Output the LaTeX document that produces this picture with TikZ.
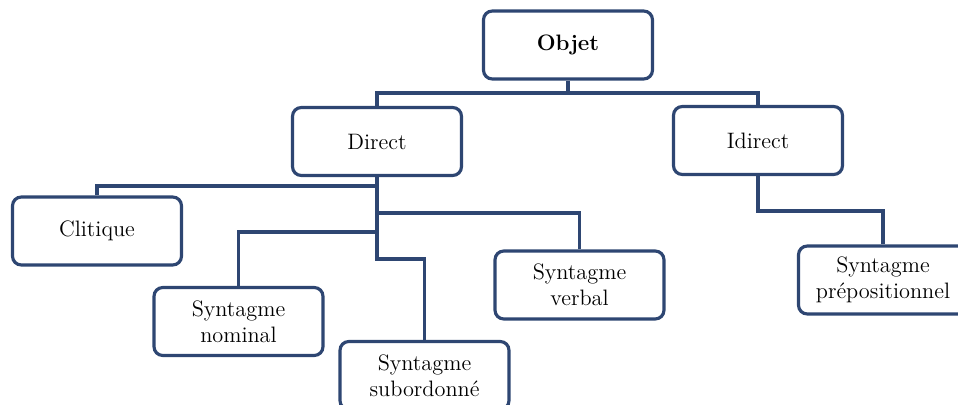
\documentclass[tikz,border=0pt]{standalone}
\usepackage{tikz}
\usetikzlibrary{positioning}
\usepackage{xcolor}
\definecolor{boxblue}{HTML}{2E4672}

\begin{document}
\begin{tikzpicture}[x=0.02cm, y=-0.02cm,
    box/.style={draw=boxblue, line width=1.8pt, rounded corners=5pt, fill=white,
        minimum width=3.38cm, minimum height=1.36cm, align=center,
        font=\fontsize{12.7}{14.8}\selectfont},
    link/.style={draw=boxblue, line width=1.8pt}]
    \useasboundingbox (0,0) rectangle (958,405);
    \clip (0,0) rectangle (958,405);
    % Boxes
    \node[box, font=\fontsize{12.7}{14.8}\selectfont\bfseries] (objet) at (568,45) {Objet};
    \node[box] (direct) at (377,141.5) {Direct};
    \node[box] (idirect) at (758,140.5) {Idirect};
    \node[box] (clitique) at (97,231) {Clitique};
    \node[box] (nominal) at (238.5,321.5) {Syntagme\\nominal};
    \node[box] (subord) at (424.5,375.5) {Syntagme\\subordonné};
    \node[box] (verbal) at (579.5,285) {Syntagme\\verbal};
    \node[box] (prep) at (883,280) {Syntagme\\prépositionnel};
    % Branch points
    \coordinate (objsplit) at (568,93);
    \coordinate (dirsplit) at (377,186);
    \coordinate (verbsplit) at (377,213);
    \coordinate (nomsplit) at (377,232);
    \coordinate (subsplit) at (377,259);
    \coordinate (indsplit) at (758,211);
    % Connections
    \draw[link] (objet.south) -- (objsplit);
    \draw[link] (direct.north) |- (objsplit) -| (idirect.north);
    \draw[link] (clitique.north) |- (dirsplit);
    \draw[link] (direct.south) -- (subsplit) -| (subord.north);
    \draw[link] (verbal.north) |- (verbsplit);
    \draw[link] (nominal.north) |- (nomsplit);
    \draw[link] (idirect.south) -- (indsplit) -| (prep.north);
\end{tikzpicture}
\end{document}
